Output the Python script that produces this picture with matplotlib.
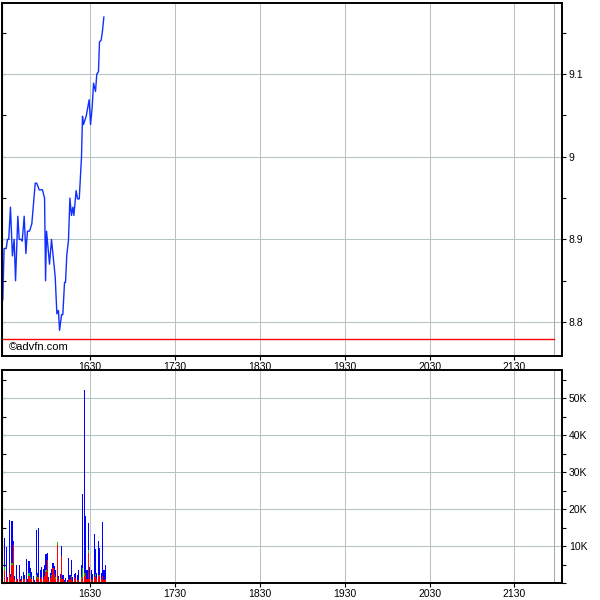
import matplotlib
matplotlib.use("Agg")
import matplotlib.pyplot as plt
from matplotlib.ticker import FixedLocator, MultipleLocator, FuncFormatter

# price trace, minutes after 15:30
price_minutes = [-1.5, -0.6, 0.9, 1.8, 2.7, 3.9, 5.3, 6.5, 7.5, 9.1, 10.1, 11.5, 12.2,
                 13.6, 14.8, 15.9, 17.4, 19.0, 21.4, 22.5, 24.2, 26.5, 28.0, 28.7, 29.4,
                 31.5, 32.9, 35.5, 36.7, 37.8, 38.6, 40.0, 40.9, 42.1, 42.8, 43.7, 44.9,
                 45.9, 47.0, 48.0, 48.7, 50.3, 51.3, 52.5, 54.1, 54.8, 55.5, 57.4, 59.5,
                 60.5, 61.6, 62.6, 64.0, 64.9, 66.1, 66.8, 68.0, 68.9, 69.9]
prices = [8.827, 8.889, 8.889, 8.900, 8.900, 8.939, 8.880, 8.900, 8.850, 8.928, 8.900,
          8.900, 8.898, 8.928, 8.883, 8.910, 8.910, 8.919, 8.968, 8.968, 8.960, 8.960,
          8.950, 8.850, 8.910, 8.870, 8.900, 8.855, 8.810, 8.814, 8.790, 8.809, 8.809,
          8.848, 8.848, 8.881, 8.899, 8.950, 8.929, 8.939, 8.929, 8.959, 8.949, 8.949,
          9.000, 9.049, 9.039, 9.049, 9.069, 9.039, 9.059, 9.089, 9.079, 9.100, 9.103,
          9.139, 9.141, 9.152, 9.169]
prev_close = 8.78

# volume bars (thousands)
vol_minutes = list(range(0, 53)) + list(range(54, 72))
vol_total = [12.2, 9.8, 1.5, 17.0, 2.5, 16.8, 11.3, 2.0, 4.9, 1.2, 5.0, 1.2, 2.0, 3.0,
             2.3, 6.5, 1.2, 6.0, 4.0, 3.0, 1.8, 0.8, 14.3, 2.8, 14.8, 3.5, 4.3, 3.8,
             4.9, 7.9, 8.1, 1.5, 2.8, 3.9, 5.5, 4.6, 3.6, 11.0, 2.0, 2.5, 10.0, 2.2,
             0.8, 1.3, 0.8, 6.9, 2.2, 6.3, 1.7, 2.4, 2.6, 2.2, 3.6,
             4.9, 24.0, 52.3, 18.0, 3.5, 16.2, 4.3, 3.5, 2.5, 13.2, 9.1, 2.8, 11.4,
             9.5, 2.8, 16.6, 3.5, 5.0]
vol_red = [3.5, 1.7, 0.8, 2.6, 1.5, 4.9, 10.3, 1.2, 1.0, 0.6, 1.3, 0.5, 0.8, 1.2,
           1.0, 1.2, 0.3, 1.8, 1.0, 1.2, 0.8, 0.4, 1.5, 1.0, 1.5, 1.2, 1.5, 1.0,
           1.8, 3.0, 6.2, 0.8, 1.3, 2.0, 4.0, 2.5, 1.0, 10.3, 1.0, 1.0, 7.4, 1.0,
           0.3, 0.5, 0.3, 1.2, 0.8, 1.5, 0.6, 1.5, 1.2, 0.8, 0.8,
           1.0, 1.5, 2.0, 2.8, 1.0, 8.2, 1.0, 1.2, 0.8, 1.5, 2.0, 1.2, 2.3,
           1.8, 1.0, 1.8, 0.8, 1.0]
vol_green = [0.8, 0, 0, 0, 0, 0.5, 0, 0, 0, 0, 0, 0, 0, 0,
             0, 0, 0, 0.8, 0.5, 0, 0, 0, 0.8, 0.7, 0, 0, 0, 0,
             0, 0.4, 0, 0, 0, 0.3, 0, 0, 0.5, 0.8, 0, 0.3, 0, 0,
             0, 0, 0, 0, 0, 0.5, 0, 0, 0, 0, 0,
             0.5, 2.5, 0.8, 0, 0, 0.7, 0, 0, 0, 0, 0.5, 0, 0,
             0.4, 0, 0, 0, 0]

hour_ticks = [60, 120, 180, 240, 300, 360]
hour_labels = ["1630", "1730", "1830", "1930", "2030", "2130"]
session_end = 388

grid_col = "#b4c4c4"
plt.rcParams["font.family"] = ["Liberation Sans", "DejaVu Sans"]

fig = plt.figure(figsize=(6, 6), dpi=100)
ax = fig.add_axes([0.0035, 0.4067, 0.933, 0.5883])
axv = fig.add_axes([0.0035, 0.0283, 0.933, 0.355])

for a in (ax, axv):
    a.set_xlim(-2, 393.5)
    a.xaxis.set_major_locator(FixedLocator(hour_ticks))
    a.set_xticklabels(hour_labels)
    a.grid(True, axis="both", color=grid_col, linewidth=0.75)
    a.axvline(session_end, color="#a0b0b0", linewidth=0.75)
    a.set_axisbelow(True)
    for s in a.spines.values():
        s.set_linewidth(1.4)
    a.yaxis.tick_right()
    a.tick_params(axis="x", which="major", direction="out", length=3, width=0.8,
                  labelsize=7.5, pad=1.5)
    a.tick_params(axis="y", which="both", direction="out", length=3, width=0.8,
                  labelsize=7.5, pad=2)

# price panel
ax.plot(price_minutes, prices, color="#1030ff", linewidth=1.0)
ax.axhline(prev_close, xmin=0, xmax=(session_end + 2) / 395.5, color="red", linewidth=1.0)
ax.set_ylim(8.759, 9.186)
ax.yaxis.set_major_locator(FixedLocator([8.8, 8.9, 9.0, 9.1]))
ax.yaxis.set_minor_locator(MultipleLocator(0.05))
ax.yaxis.set_major_formatter(FuncFormatter(lambda v, p: f"{v:g}"))
ax.text(0.012, 0.012, "©advfn.com", transform=ax.transAxes, fontsize=8, va="bottom")
left = ax.secondary_yaxis("left")
left.yaxis.set_major_locator(MultipleLocator(0.05))
left.tick_params(direction="in", length=3, width=0.8, labelleft=False)

# volume panel
bar_w = 0.8
axv.bar(vol_minutes, vol_total, width=bar_w, color="#0000ff", antialiased=False)
axv.bar(vol_minutes, [r + g for r, g in zip(vol_red, vol_green)], width=bar_w,
        color="#00cc00", antialiased=False)
axv.bar(vol_minutes, vol_red, width=bar_w, color="#ff0000", antialiased=False)
axv.set_ylim(0, 57.6)
axv.yaxis.set_major_locator(FixedLocator([10, 20, 30, 40, 50]))
axv.yaxis.set_minor_locator(MultipleLocator(5))
axv.yaxis.set_major_formatter(FuncFormatter(lambda v, p: f"{int(v)}K"))
leftv = axv.secondary_yaxis("left")
leftv.yaxis.set_major_locator(MultipleLocator(5))
leftv.tick_params(direction="in", length=3, width=0.8, labelleft=False)

fig.savefig("out.png", dpi=100, facecolor="white")
